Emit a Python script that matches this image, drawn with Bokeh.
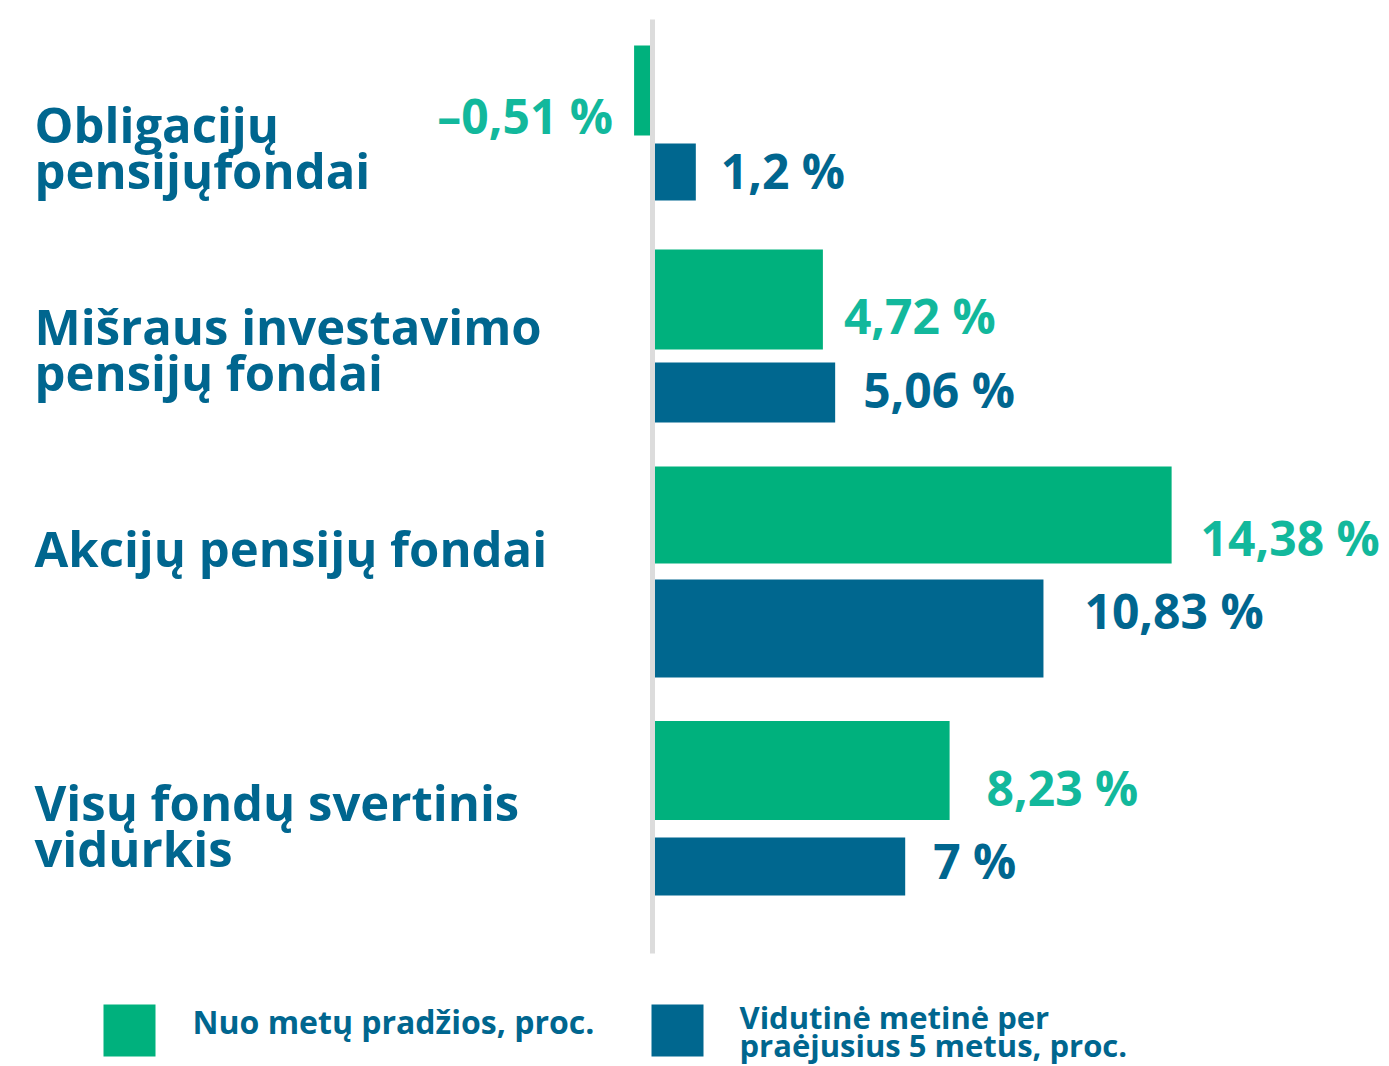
from bokeh.plotting import figure
from bokeh.models import Range1d, ColumnDataSource
from bokeh.core.properties import value
from bokeh.embed import file_html
from bokeh.resources import INLINE

# ---- data ----
categories = [
    ["Obligacijų", "pensijųfondai"],
    ["Mišraus investavimo", "pensijų fondai"],
    ["Akcijų pensijų fondai"],
    ["Visų fondų svertinis", "vidurkis"],
]
ytd_values = [-0.51, 4.72, 14.38, 8.23]          # Nuo metų pradžios, proc.
avg5_values = [1.2, 5.06, 10.83, 7.0]            # Vidutinė metinė per praėjusius 5 metus, proc.
ytd_labels = ["\u20130,51 %", "4,72 %", "14,38 %", "8,23 %"]
avg5_labels = ["1,2 %", "5,06 %", "10,83 %", "7 %"]
legend_labels = [["Nuo metų pradžios, proc."], ["Vidutinė metinė per", "praėjusius 5 metus, proc."]]

# ---- layout (picture pixels) ----
W, H = 1389, 1066
PX = 36.1            # pixels per percentage point
ZERO = 652           # zero position inside the canvas
x0 = -ZERO / PX
x1 = x0 + W / PX

def px(xpic):
    return x0 + xpic / PX

def base(y, fs):
    # compensate for the renderer's alphabetic-baseline offset
    return y - 0.38 * fs

ytd_center = [90, 299, 514.5, 770]
ytd_height = [90, 100, 97, 99]
avg_center = [171.5, 392, 628, 866]
avg_height = [57, 60, 98, 58]

ytd_lab_y = [133, 333, 555, 805]
avg_lab_y = [188, 407, 628, 878]
ytd_lab_gap = [21, 21, 29, 37]
avg_lab_gap = [25, 28, 41, 28]

cat_base = [[142, 188], [344, 390], [566], [820, 866]]

GREEN = "#00B17D"
BLUE = "#00678F"
GREEN_TXT = "#12B89C"
BLUE_TXT = "#00668F"
FONT = value("Open Sans")
VFS, CFS = 48, 49
LFS = [32, 31]

p = figure(width=W, height=H, x_range=Range1d(x0, x1), y_range=Range1d(H, 0),
           output_backend="svg", toolbar_location=None, x_axis_type=None, y_axis_type=None,
           min_border=0, outline_line_color=None)
p.grid.visible = False
p.background_fill_color = "white"
p.border_fill_color = "white"

src_g = ColumnDataSource(dict(y=ytd_center, h=ytd_height, right=ytd_values))
src_b = ColumnDataSource(dict(y=avg_center, h=avg_height, right=avg5_values))
p.hbar(y="y", height="h", left=0, right="right", source=src_g, color=GREEN, line_width=0)
p.hbar(y="y", height="h", left=0, right="right", source=src_b, color=BLUE, line_width=0)

# zero line
p.segment(x0=[0], y0=[19], x1=[0], y1=[953], line_color="#DCDCDC", line_width=5)

# value labels
gx, gy, gt, ga = [], [], [], []
for v, t, yy, gap in zip(ytd_values, ytd_labels, ytd_lab_y, ytd_lab_gap):
    if v < 0:
        gx.append(v - gap / PX); ga.append("right")
    else:
        gx.append(v + gap / PX); ga.append("left")
    gy.append(base(yy, VFS)); gt.append(t)
p.text(x=gx, y=gy, text=gt, text_align=ga, text_baseline="alphabetic",
       text_font=FONT, text_font_style="bold", text_font_size=f"{VFS}px", text_color=GREEN_TXT)

bx = [v + gap / PX for v, gap in zip(avg5_values, avg_lab_gap)]
p.text(x=bx, y=[base(y, VFS) for y in avg_lab_y], text=avg5_labels, text_align="left",
       text_baseline="alphabetic", text_font=FONT, text_font_style="bold",
       text_font_size=f"{VFS}px", text_color=BLUE_TXT)

# category labels
cx, cy, ct = [], [], []
for lines, bases in zip(categories, cat_base):
    for ln, b in zip(lines, bases):
        cx.append(px(34)); cy.append(base(b, CFS)); ct.append(ln)
p.text(x=cx, y=cy, text=ct, text_align="left", text_baseline="alphabetic",
       text_font=FONT, text_font_style="bold", text_font_size=f"{CFS}px", text_color=BLUE_TXT)

# legend
p.quad(left=[px(103), px(651)], right=[px(155), px(703)], top=[1004, 1004], bottom=[1056, 1056],
       color=[GREEN, BLUE], line_width=0)
for lines, xs, bases, fs in zip(legend_labels, [192, 739], [[1033], [1028, 1056]], LFS):
    p.text(x=[px(xs)] * len(lines), y=[base(b, fs) for b in bases], text=lines,
           text_align="left", text_baseline="alphabetic", text_font=FONT,
           text_font_style="bold", text_font_size=f"{fs}px", text_color=BLUE_TXT)

open("out.html", "w").write(file_html(p, INLINE))
